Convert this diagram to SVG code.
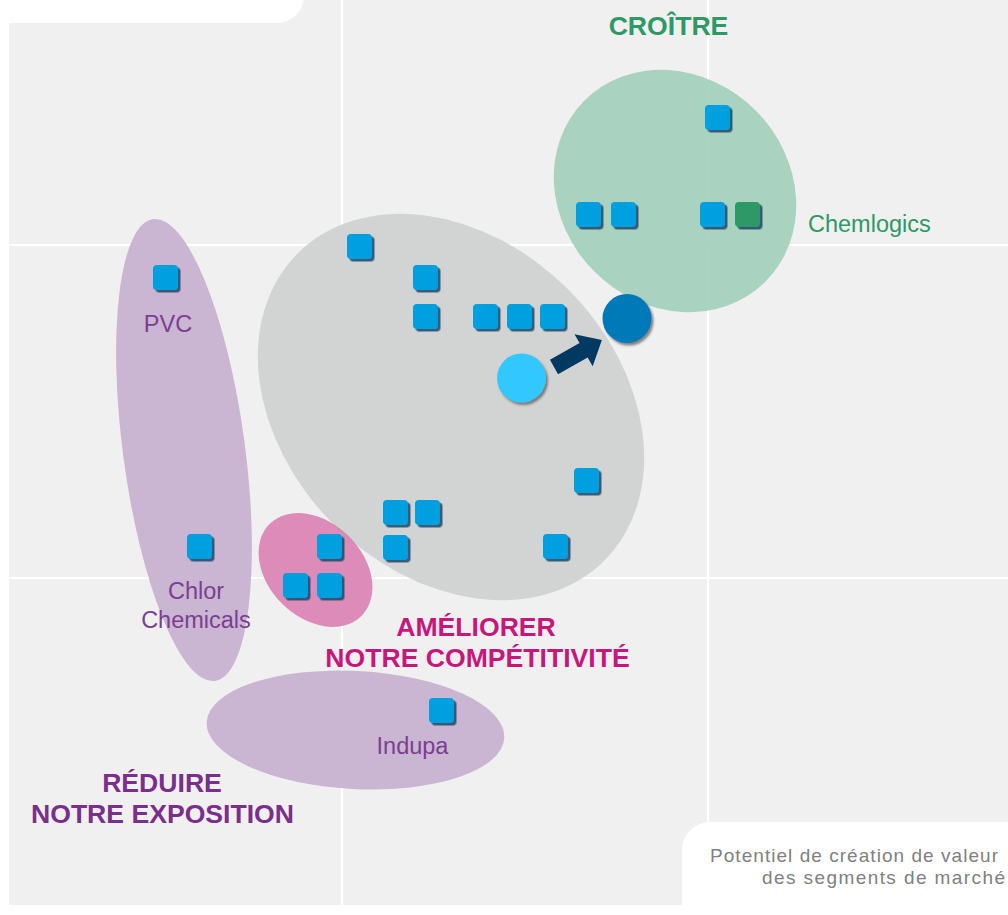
<svg xmlns="http://www.w3.org/2000/svg" width="1008" height="915" viewBox="0 0 1008 915">
<defs>
<style>
.sq{fill:#009fe0;filter:url(#sh)}
.sqg{fill:#2e9866;filter:url(#sh)}
.grid{stroke:#ffffff;stroke-width:2.2}
.lbl{font-family:"Liberation Sans",Arial,sans-serif;font-size:23.5px;text-anchor:middle}
.hd{font-family:"Liberation Sans",Arial,sans-serif;font-size:26.6px;font-weight:bold;text-anchor:middle}
.ax{font-family:"Liberation Sans",Arial,sans-serif;font-size:19px;fill:#808080}
</style>
<filter id="sh" x="-30%" y="-30%" width="170%" height="170%">
<feDropShadow dx="2.5" dy="2.5" stdDeviation="0.7" flood-color="#1f4466" flood-opacity="0.85"/>
</filter>
<filter id="shc" x="-30%" y="-30%" width="170%" height="170%">
<feDropShadow dx="2" dy="2.5" stdDeviation="1.2" flood-color="#555555" flood-opacity="0.7"/>
</filter>
</defs>
<rect width="1008" height="915" fill="#ffffff"/>
<rect x="9" y="0" width="999" height="905" fill="#f0f0f0"/>
<g id="grid">
<line class="grid" x1="342" y1="0" x2="342" y2="905"/>
<line class="grid" x1="708" y1="0" x2="708" y2="905"/>
<line class="grid" x1="9" y1="245" x2="1008" y2="245"/>
<line class="grid" x1="9" y1="578" x2="1008" y2="578"/>
</g>
<rect x="-40" y="-40" width="344" height="63" rx="27" fill="#ffffff"/>
<rect x="682" y="822" width="380" height="130" rx="28" fill="#ffffff"/>

<g id="zone-croitre">
<ellipse cx="675" cy="191" rx="128" ry="114" transform="rotate(45 675 191)" fill="#9fcdb8" fill-opacity="0.88"/>
</g>
<g id="zone-competitivite">
<ellipse cx="451" cy="407" rx="217" ry="166" transform="rotate(45 451 407)" fill="#cdcece" fill-opacity="0.88"/>
</g>
<g id="zone-pink">
<ellipse cx="315.5" cy="570" rx="65" ry="47.5" transform="rotate(45 315.5 570)" fill="#da7db0" fill-opacity="0.88"/>
</g>
<g id="zone-pvc-chlor">
<ellipse cx="184" cy="450" rx="61" ry="233" transform="rotate(-7.6 184 450)" fill="#c4acce" fill-opacity="0.88"/>
</g>
<g id="zone-indupa">
<ellipse cx="355.5" cy="730" rx="149" ry="59" transform="rotate(3 355.5 730)" fill="#c4acce" fill-opacity="0.88"/>
</g>

<g id="squares">
<rect class="sq" x="705" y="105" width="25" height="25" rx="4"/>
<rect class="sq" x="576" y="202" width="25" height="25" rx="4"/>
<rect class="sq" x="611" y="202" width="25" height="25" rx="4"/>
<rect class="sq" x="700" y="202" width="25" height="25" rx="4"/>
<rect class="sqg" x="735" y="202" width="25" height="25" rx="4"/>
<rect class="sq" x="347" y="234" width="25" height="25" rx="4"/>
<rect class="sq" x="413" y="265" width="25" height="25" rx="4"/>
<rect class="sq" x="413" y="304" width="25" height="25" rx="4"/>
<rect class="sq" x="473" y="304" width="25" height="25" rx="4"/>
<rect class="sq" x="507" y="304" width="25" height="25" rx="4"/>
<rect class="sq" x="540" y="304" width="25" height="25" rx="4"/>
<rect class="sq" x="574" y="468" width="25" height="25" rx="4"/>
<rect class="sq" x="383" y="500" width="25" height="25" rx="4"/>
<rect class="sq" x="415" y="500" width="25" height="25" rx="4"/>
<rect class="sq" x="383" y="535" width="25" height="25" rx="4"/>
<rect class="sq" x="543" y="534" width="25" height="25" rx="4"/>
<rect class="sq" x="317" y="534" width="25" height="25" rx="4"/>
<rect class="sq" x="283" y="573" width="25" height="25" rx="4"/>
<rect class="sq" x="317" y="573" width="25" height="25" rx="4"/>
<rect class="sq" x="153" y="265" width="25" height="25" rx="4"/>
<rect class="sq" x="187" y="534" width="25" height="25" rx="4"/>
<rect class="sq" x="429" y="698" width="25" height="25" rx="4"/>
</g>

<g id="position-now">
<circle cx="521.5" cy="378" r="24.5" fill="#33c8ff" filter="url(#shc)"/>
</g>
<g id="position-target">
<circle cx="627" cy="318.5" r="24.5" fill="#0079b9" filter="url(#shc)"/>
</g>
<g id="connectors">
<polygon points="0,-8.2 34,-8.2 34,-18.5 55,0 34,18.5 34,8.2 0,8.2" fill="#003a62" transform="translate(554 367) rotate(-29.5)"/>
</g>

<g id="labels">
<text class="hd" x="668.5" y="35" fill="#2e9866">CROÎTRE</text>
<text class="lbl" x="808" y="232" fill="#2e9866" style="text-anchor:start">Chemlogics</text>
<text class="lbl" x="168" y="332" fill="#7b3f91">PVC</text>
<text class="lbl" x="196" y="599" fill="#7b3f91">Chlor</text>
<text class="lbl" x="196" y="628" fill="#7b3f91">Chemicals</text>
<text class="lbl" x="412.5" y="754" fill="#7b3f91">Indupa</text>
<text class="hd" x="476" y="636" fill="#c8177a">AMÉLIORER</text>
<text class="hd" x="477.5" y="667" fill="#c8177a">NOTRE COMPÉTITIVITÉ</text>
<text class="hd" x="162" y="792" fill="#7a2f8c">RÉDUIRE</text>
<text class="hd" x="162.5" y="823" fill="#7a2f8c">NOTRE EXPOSITION</text>
<text class="ax" x="710" y="862" textLength="288" lengthAdjust="spacing">Potentiel de création de valeur</text>
<text class="ax" x="762" y="884" textLength="243" lengthAdjust="spacing">des segments de marché</text>
</g>
</svg>
